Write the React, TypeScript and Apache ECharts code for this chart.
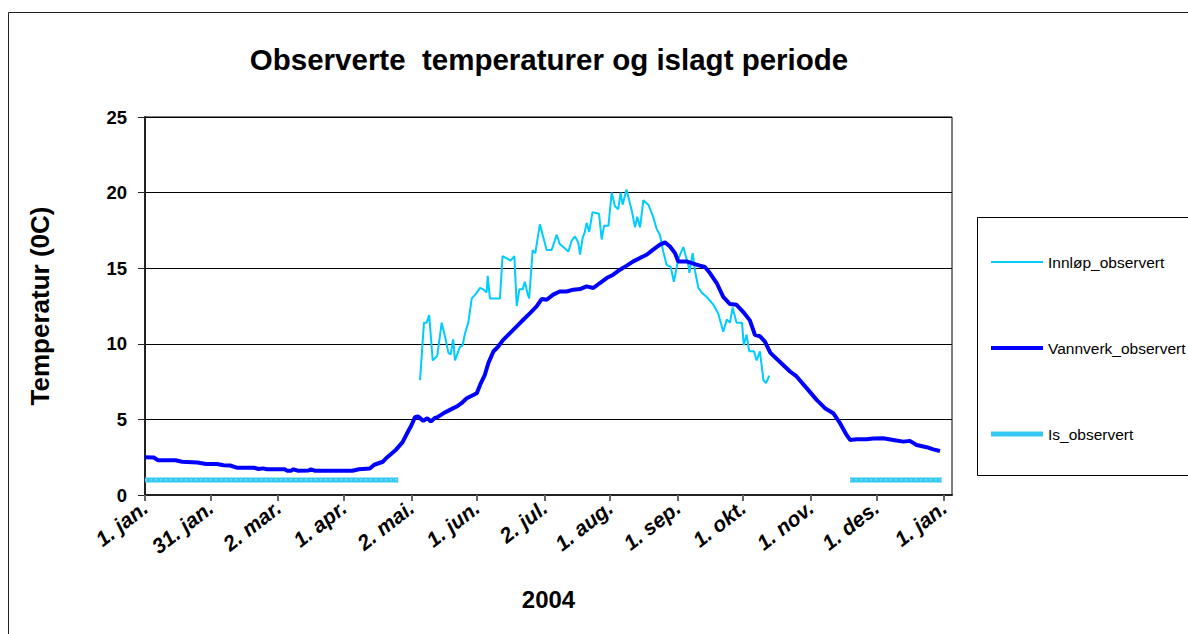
import React, { useEffect, useRef } from "react";
import * as echarts from "echarts";

const FONT = 'Arial, "Liberation Sans", sans-serif';

const titleText = "Observerte  temperaturer og islagt periode";
const xAxisName = "2004";
const yAxisName = "Temperatur (0C)";

// day offsets from 1. jan. 2004 and their labels
const tickDays = [0, 30, 61, 91, 122, 152, 183, 213, 244, 274, 305, 335, 366];
const tickLabels = [
  "1. jan.", "31. jan.", "2. mar.", "1. apr.", "2. mai.", "1. jun.", "2. jul.",
  "1. aug.", "1. sep.", "1. okt.", "1. nov.", "1. des.", "1. jan.",
];

const seriesNames = ["Innløp_observert", "Vannverk_observert", "Is_observert"];

const innlop: [number, number][] = [
  [126, 7.6], [127.8, 11.4], [129, 11.4], [130.2, 11.9], [131.8, 8.9], [133.9, 9.2],
  [135.9, 11.4], [137.4, 10.5], [139, 9.4], [140, 9.3], [141.2, 10.3], [142, 8.9],
  [144.3, 9.8], [145.5, 9.9], [146.6, 10.7], [148.1, 11.4], [149.7, 13.0], [151.6, 13.3],
  [153.5, 13.7], [155, 13.6], [156.5, 13.4], [157, 14.5], [158, 13.0], [162.6, 13.0],
  [163.8, 15.8], [166.4, 15.6], [167.5, 15.5], [169.2, 15.8], [170.3, 12.5], [171.5, 13.6],
  [173, 13.6], [174, 14.1], [175.3, 13.3], [176, 13.0], [177.6, 16.2], [178.8, 16.0],
  [180.9, 17.9], [184, 16.2], [186.3, 16.2], [188.6, 17.2], [190, 16.6], [193.2, 16.2],
  [194, 16.1], [195.4, 16.8], [197, 17.1], [198.5, 16.7], [199.3, 15.9], [200.5, 17.0],
  [201.5, 17.4], [202.3, 18.0], [203.5, 17.4], [205, 18.7], [208, 18.6], [209.2, 16.9],
  [210.3, 17.8], [212.3, 17.8], [213.8, 20.0], [215.3, 19.1], [216.8, 18.9], [217.9, 20.0],
  [218.8, 19.2], [220.6, 20.2], [223, 18.8], [224.5, 17.7], [225.5, 18.4], [226.8, 17.7],
  [228.3, 19.5], [230.6, 19.2], [232.8, 18.4], [234.4, 17.6], [235.9, 17.2], [237.4, 16.1],
  [239, 15.2], [240.8, 15.1], [242.3, 14.1], [244.3, 15.6], [246.6, 16.4], [248.9, 15.2],
  [249.4, 14.7], [250.9, 16.0], [252, 14.8], [253.5, 13.7], [255, 13.4], [257.3, 13.1],
  [260.3, 12.6], [262.6, 12.0], [264.9, 10.8], [266.5, 11.6], [268, 11.4], [269.2, 12.4],
  [271, 11.4], [273.5, 11.4], [274.3, 9.9], [275.6, 10.6], [276.8, 9.5], [279, 9.5],
  [280.2, 8.9], [281.7, 9.5], [283.3, 7.6], [284.5, 7.4], [286, 7.9],
];

const vannverk: [number, number][] = [
  [0, 2.5], [4, 2.48], [6, 2.3], [14, 2.3], [17, 2.2], [24, 2.15], [28, 2.05], [33, 2.05],
  [36, 1.97], [39, 1.95], [42, 1.81], [50, 1.8], [52, 1.72], [54, 1.76], [56, 1.7], [64, 1.7],
  [65, 1.61], [67, 1.61], [68, 1.7], [70, 1.61], [75, 1.62], [76, 1.7], [78, 1.6], [95, 1.6],
  [98, 1.7], [103, 1.75], [105, 2.0], [109, 2.2], [111, 2.5], [113, 2.75], [115, 3.0],
  [118, 3.5], [120.5, 4.2], [122, 4.6], [123.7, 5.15], [125, 5.2], [127.5, 4.9], [129.3, 5.08],
  [131, 4.86], [132.8, 5.1], [134, 5.15], [136.7, 5.4], [139.7, 5.63], [142.8, 5.85],
  [145, 6.07], [147.4, 6.4], [149.7, 6.56], [152, 6.73], [153.5, 7.28], [155.7, 7.95],
  [157.3, 8.72], [159.6, 9.49], [161.8, 9.82], [164.1, 10.26], [167.2, 10.71], [170.3, 11.15],
  [173.3, 11.59], [176.4, 12.03], [179.4, 12.47], [181.7, 12.96], [184, 12.91], [187, 13.25],
  [190, 13.46], [193.2, 13.46], [196.2, 13.58], [199.3, 13.62], [202.3, 13.8], [205.4, 13.69],
  [208.4, 14.02], [211.5, 14.35], [214.5, 14.57], [217.6, 14.9], [220.7, 15.17], [223.7, 15.45],
  [226.8, 15.68], [229.8, 15.89], [232.8, 16.23], [235.9, 16.56], [238.2, 16.71], [240.5, 16.44],
  [242.8, 16.0], [244.3, 15.45], [248.1, 15.45], [251.2, 15.3], [254.2, 15.17], [256.5, 15.08],
  [258.8, 14.68], [261.9, 14.02], [264.9, 13.1], [268, 12.63], [271, 12.58], [274.1, 12.1],
  [277.1, 11.55], [279.4, 10.6], [281.7, 10.5], [284, 10.15], [286.5, 9.4], [290.9, 8.8],
  [295.5, 8.17], [298.5, 7.84], [303.1, 7.07], [307.7, 6.29], [311.5, 5.74], [315.3, 5.41],
  [318.4, 4.75], [321.4, 3.97], [323, 3.64], [326, 3.69], [330.6, 3.69], [333.6, 3.73],
  [338.2, 3.75], [342.8, 3.64], [347.4, 3.53], [350.4, 3.58], [353.5, 3.31], [358.1, 3.16],
  [361.1, 3.02], [364.2, 2.91],
];

const isObservert: [number, number | string][] = [
  [0, 1], [116, 1], [220, "-"], [323, 1], [365, 1],
];

export default function App() {
  const ref = useRef<HTMLDivElement>(null);
  useEffect(() => {
    if (!ref.current) return;
    const chart = echarts.init(ref.current, null, { renderer: "svg" });
    chart.setOption({
      animation: false,
      backgroundColor: "#ffffff",
      title: {
        text: titleText,
        left: 549,
        top: 44,
        textAlign: "center",
        padding: 0,
        textStyle: { fontFamily: FONT, fontSize: 29.5, fontWeight: "bold", color: "#000" },
      },
      legend: {
        orient: "vertical",
        left: 991,
        top: 254,
        itemWidth: 52,
        itemHeight: 14,
        itemGap: 70,
        padding: 0,
        symbolKeepAspect: true,
        data: [
          { name: seriesNames[0], icon: "path://M0,0 L52,0 L52,2 L0,2 Z" },
          { name: seriesNames[1], icon: "path://M0,0 L52,0 L52,4 L0,4 Z" },
          { name: seriesNames[2], icon: "path://M0,0 L52,0 L52,5 L0,5 Z" },
        ],
        textStyle: { fontFamily: FONT, fontSize: 15.5, color: "#000" },
      },
      grid: {
        left: 145,
        right: 236,
        top: 117,
        bottom: 139,
        show: true,
        borderColor: "#000",
        borderWidth: 1,
        backgroundColor: "#fff",
      },
      xAxis: {
        type: "value",
        min: 0,
        max: 369.7,
        name: xAxisName,
        nameLocation: "middle",
        nameGap: 92,
        nameTextStyle: { fontFamily: FONT, fontSize: 24, fontWeight: "bold", color: "#000" },
        axisLine: { show: true, onZero: false, lineStyle: { color: "#222", width: 2 } },
        axisTick: {
          show: true,
          length: 6,
          customValues: tickDays,
          lineStyle: { color: "#666", width: 2 },
        },
        axisLabel: {
          customValues: tickDays,
          rotate: 38,
          margin: 10,
          fontFamily: FONT,
          fontSize: 21,
          fontWeight: "bold",
          fontStyle: "italic",
          color: "#000",
          formatter: (v: number) => {
            const i = tickDays.indexOf(Math.round(v));
            return i >= 0 ? tickLabels[i] : "";
          },
        },
        splitLine: { show: false },
      },
      yAxis: {
        type: "value",
        min: 0,
        max: 25,
        interval: 5,
        name: yAxisName,
        nameLocation: "middle",
        nameGap: 92,
        nameTextStyle: { fontFamily: FONT, fontSize: 26, fontWeight: "bold", color: "#000" },
        axisLine: { show: true, lineStyle: { color: "#222", width: 2 } },
        axisTick: { show: true, length: 7, lineStyle: { color: "#222", width: 1 } },
        axisLabel: {
          margin: 18,
          fontFamily: FONT,
          fontSize: 18.5,
          fontWeight: "bold",
          color: "#000",
        },
        splitLine: { show: true, lineStyle: { color: "#000", width: 1 } },
      },
      series: [
        {
          name: seriesNames[0],
          type: "line",
          data: innlop,
          showSymbol: false,
          symbol: "none",
          lineStyle: { color: "#00CCFF", width: 2 },
          itemStyle: { color: "#00CCFF" },
          z: 3,
        },
        {
          name: seriesNames[1],
          type: "line",
          data: vannverk,
          showSymbol: false,
          symbol: "none",
          lineStyle: { color: "#0000FF", width: 4 },
          itemStyle: { color: "#0000FF" },
          z: 4,
        },
        {
          name: seriesNames[2],
          type: "line",
          data: isObservert,
          showSymbol: false,
          symbol: "none",
          connectNulls: false,
          lineStyle: { color: "#33C9F2", width: 5 },
          itemStyle: { color: "#33C9F2" },
          z: 2,
        },
        {
          name: "is_pattern",
          type: "line",
          data: isObservert,
          showSymbol: false,
          symbol: "none",
          silent: true,
          connectNulls: false,
          lineStyle: { color: "#9BE4F9", width: 1, type: [2, 3] },
          z: 2,
        },
      ],
      graphic: [
        {
          type: "rect",
          shape: { x: 8.5, y: 12.5, width: 1300, height: 800 },
          style: { fill: "none", stroke: "#222", lineWidth: 1 },
          silent: true,
          z: 100,
        },
        {
          type: "rect",
          shape: { x: 977.5, y: 217.5, width: 300, height: 258 },
          style: { fill: "none", stroke: "#000", lineWidth: 1 },
          silent: true,
          z: 100,
        },
      ],
    });
    return () => chart.dispose();
  }, []);
  return (
    <div
      ref={ref}
      style={{ position: "absolute", left: 0, top: 0, width: 1188, height: 634 }}
    />
  );
}
